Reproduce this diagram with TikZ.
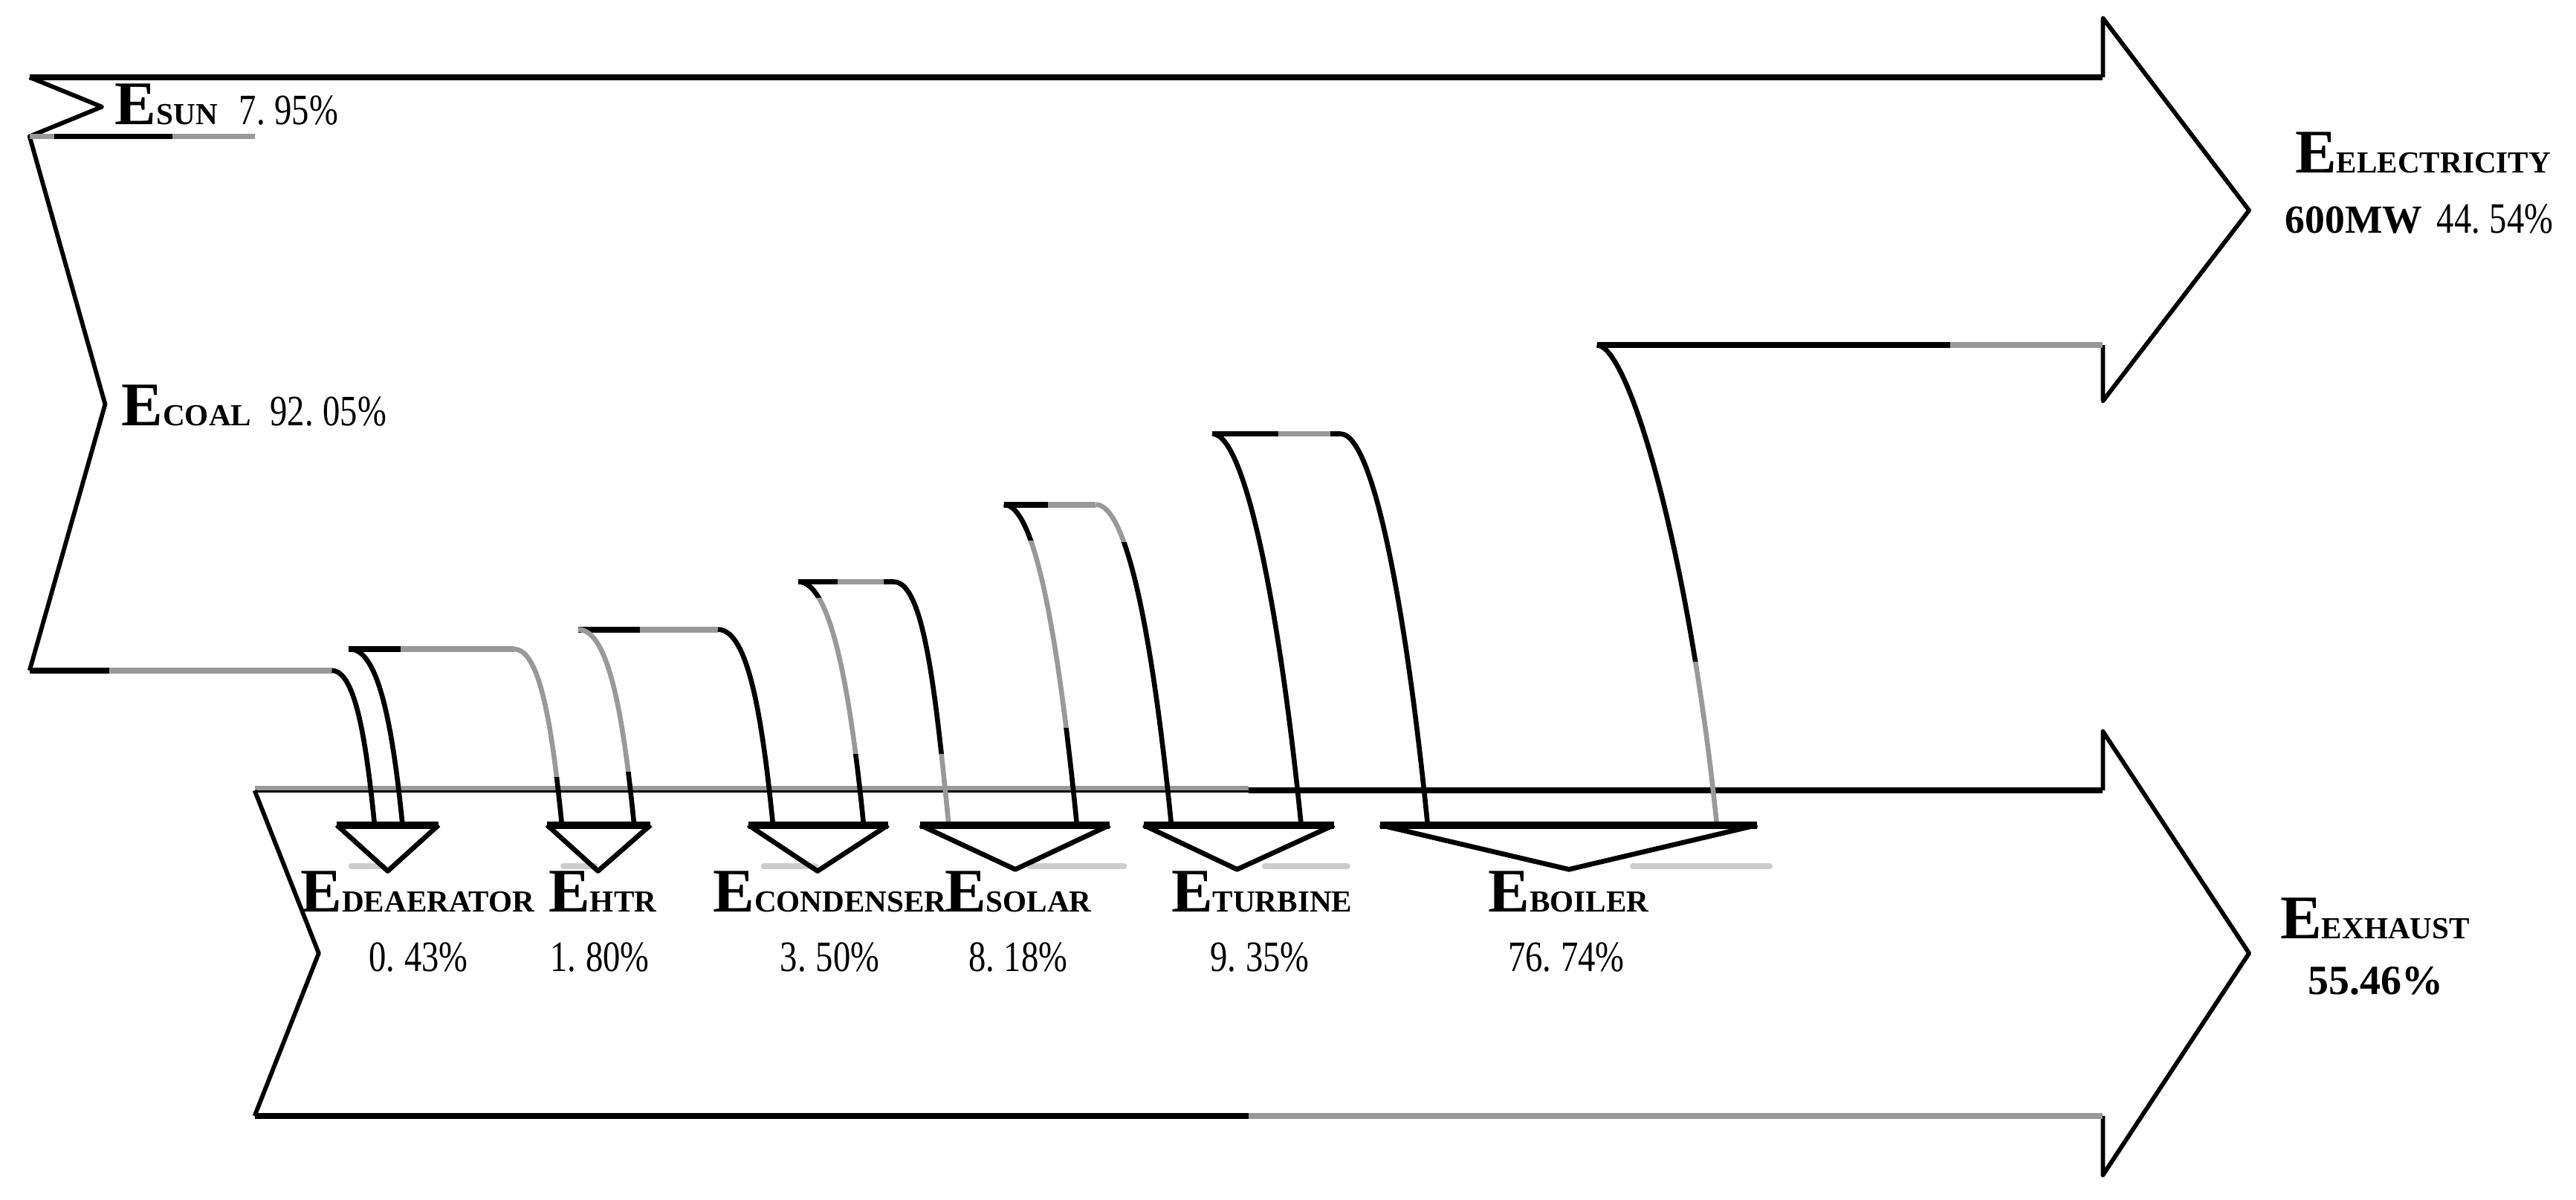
\documentclass[tikz,border=0pt]{standalone}
\usepackage{fontspec}
\setmainfont{Liberation Serif}
\newfontfamily\songnum[FakeStretch=0.8]{Liberation Serif}
\definecolor{dgray}{gray}{0.6}
\definecolor{lgray}{gray}{0.8}
\newcommand\Elabel[1]{{\fontsize{21.5}{22}\selectfont\bfseries E}{\fontsize{10.6}{11}\selectfont\bfseries #1}}
\newcommand\pct[2]{{\fontsize{15}{16}\selectfont\songnum #1.\hspace{0.22em}#2\%}}
\tikzset{
  flow/.style={line width=1.7pt, line join=round},
  outline/.style={line width=1.5pt, line join=round},
  hflow/.style={line width=2.0pt},
  topbar/.style={line width=2.6pt},
  shadowbar/.style={line width=2.2pt, draw=lgray, line cap=round},
  lab/.style={anchor=base west, inner sep=0pt, outer sep=0pt}
}
% leg: x0 y0 x1 y1 split1 split2 col1 col2 col3
\newcommand\flowleg[9]{%
  \pgfmathsetmacro\fla{#1+min(0.55*(#3-#1),20)}%
  \pgfmathsetmacro\flbx{#3-0.055*(#4-#2)}%
  \pgfmathsetmacro\flby{#4-0.55*(#4-#2)}%
  \begin{scope}
    \clip (#1-40,#2-15) rectangle (#3+40,#5);
    \draw[flow,draw=#7] (#1,#2) .. controls (\fla,#2) and (\flbx,\flby) .. (#3,#4);
  \end{scope}
  \begin{scope}
    \clip (#1-40,#5) rectangle (#3+40,#6);
    \draw[flow,draw=#8] (#1,#2) .. controls (\fla,#2) and (\flbx,\flby) .. (#3,#4);
  \end{scope}
  \begin{scope}
    \clip (#1-40,#6) rectangle (#3+40,#4+15);
    \draw[flow,draw=#9] (#1,#2) .. controls (\fla,#2) and (\flbx,\flby) .. (#3,#4);
  \end{scope}}
% triangle: xl xr tipx tipy
\newcommand\outarrow[4]{%
  \draw[flow] (#1,502) -- (#3,#4) -- (#2,502);
  \draw[topbar] (#1,502) -- (#2,502);}
\begin{document}
\begin{tikzpicture}[x=0.02cm,y=-0.02cm]
\fill[white] (0,0) rectangle (1568,730);
\useasboundingbox (0,0) rectangle (1568,730);

% ---------- input / electricity arrow ----------
\coordinate (inTL) at (18,47);
\coordinate (sunTip) at (62,65);
\coordinate (sunBL) at (18,83);
\coordinate (coalTip) at (64,246);
\coordinate (coalBL) at (18,408);
\coordinate (elTop) at (1280,47);
\coordinate (elUp) at (1280,11);
\coordinate (elTip) at (1369,128);
\coordinate (elDown) at (1280,244);
\coordinate (elLow) at (1280,210);

\draw[hflow] (inTL) -- (elTop);
\draw[outline] (elTop) -- (elUp) -- (elTip) -- (elDown) -- (elLow);
\draw[outline] (inTL) -- (sunTip) -- (sunBL) -- (coalTip) -- (coalBL);
% sun underline
\draw[hflow,dgray] (sunBL) -- (155,83);
\draw[hflow] (33,83) -- (105,83);

% ---------- exhaust arrow ----------
\coordinate (exTL) at (155,481);
\coordinate (exTip) at (194,580);
\coordinate (exBL) at (155,679);
\coordinate (exTop) at (1280,481);
\coordinate (exUp) at (1280,445);
\coordinate (exHead) at (1369,580);
\coordinate (exDown) at (1280,715);
\coordinate (exLow) at (1280,679);
\draw[line width=1.7pt,dgray] (155,479.5) -- (760,479.5);
\draw[line width=0.8pt] (155,481.7) -- (760,481.7);
\draw[hflow] (760,481) -- (exTop);
\draw[outline] (exTop) -- (exUp) -- (exHead) -- (exDown) -- (exLow);
\draw[hflow,dgray] (exLow) -- (760,679);
\draw[hflow] (760,679) -- (exBL);
\draw[outline] (exTL) -- (exTip) -- (exBL);

% ---------- horizontal tops of branches ----------
\draw[hflow] (coalBL) -- (66.6,408);
\draw[hflow,dgray] (66.6,408) -- (202,408);
\draw[hflow] (212,395) -- (244,395);
\draw[hflow,dgray] (244,395) -- (313,395);
\draw[hflow] (352,383) -- (389.5,383);
\draw[hflow,dgray] (389.5,383) -- (437,383);
\draw[hflow] (486,354) -- (510,354);
\draw[hflow,dgray] (510,354) -- (538,354);
\draw[hflow] (538,354) -- (544,354);
\draw[hflow] (611,307) -- (638,307);
\draw[hflow,dgray] (638,307) -- (667,307);
\draw[hflow] (738,264) -- (778,264);
\draw[hflow,dgray] (778,264) -- (810,264);
\draw[hflow] (810,264) -- (816,264);
\draw[hflow] (972,210) -- (1187,210);
\draw[hflow,dgray] (1187,210) -- (elLow);

% ---------- legs ----------
\flowleg{202}{408}{228}{502}{450}{450}{black}{black}{black}
\flowleg{213}{395}{245}{502}{450}{450}{black}{black}{black}
\flowleg{313}{395}{342}{502}{473}{473}{dgray}{black}{black}
\flowleg{352}{383}{386}{502}{470}{470}{dgray}{black}{black}
\flowleg{437}{383}{470.5}{502}{450}{450}{black}{black}{black}
\flowleg{486}{354}{525.7}{502}{364}{459}{black}{dgray}{black}
\flowleg{544}{354}{577.5}{502}{459}{459}{black}{dgray}{dgray}
\flowleg{611}{307}{655.5}{502}{329}{443}{black}{dgray}{black}
\flowleg{667}{307}{713}{502}{330}{330}{dgray}{black}{black}
\flowleg{738}{264}{792}{502}{400}{400}{black}{black}{black}
\flowleg{816}{264}{869}{502}{400}{400}{black}{black}{black}
\flowleg{972}{210}{1045}{502}{403}{403}{black}{dgray}{dgray}

% ---------- shadows ----------
\draw[shadowbar] (214,527) -- (233,527);
\draw[shadowbar] (343,527) -- (362,527);
\draw[shadowbar] (465,527) -- (496,527);
\draw[shadowbar] (627,527) -- (684,527);
\draw[shadowbar] (770,527) -- (820,527);
\draw[shadowbar] (994,527) -- (1077,527);

% ---------- output triangles ----------
\outarrow{205}{267}{236}{530}
\outarrow{333}{396}{364}{530}
\outarrow{455.5}{540.6}{497.6}{530}
\outarrow{560}{675.5}{618}{529}
\outarrow{696}{812}{753}{529}
\outarrow{840}{1069.6}{955}{529}

% ---------- labels ----------
\node[lab] (sun) at (70,76) {\Elabel{SUN}\hspace{7.5pt}\pct{7}{95}};
\node[lab] (coal) at (74,259) {\Elabel{COAL}\hspace{6.5pt}\pct{92}{05}};
\node[lab] (elec1) at (1397,105) {\Elabel{ELECTRICITY}};
\node[lab] (elec2) at (1391,142) {{\fontsize{13.8}{14}\selectfont\bfseries 600MW}\hspace{5pt}\pct{44}{54}};
\node[lab] (exh1) at (1388,571) {\Elabel{EXHAUST}};
\node[lab] (exh2) at (1405,605) {\fontsize{14.4}{15}\selectfont\bfseries 55.46\%};

\node[lab] (dea) at (183,555) {\Elabel{DEAERATOR}};
\node[lab] (deav) at (224.6,591) {\pct{0}{43}};
\node[lab] (htr) at (334,555) {\Elabel{HTR}};
\node[lab] (htrv) at (335,591) {\pct{1}{80}};
\node[lab] (con) at (434,555) {\Elabel{CONDENSER}};
\node[lab] (conv) at (475,591) {\pct{3}{50}};
\node[lab] (sol) at (575,555) {\Elabel{SOLAR}};
\node[lab] (solv) at (589.5,591) {\pct{8}{18}};
\node[lab] (tur) at (713,555) {\Elabel{TURBINE}};
\node[lab] (turv) at (736.7,591) {\pct{9}{35}};
\node[lab] (boi) at (906,555) {\Elabel{BOILER}};
\node[lab] (boiv) at (918,591) {\pct{76}{74}};
\end{tikzpicture}
\end{document}
